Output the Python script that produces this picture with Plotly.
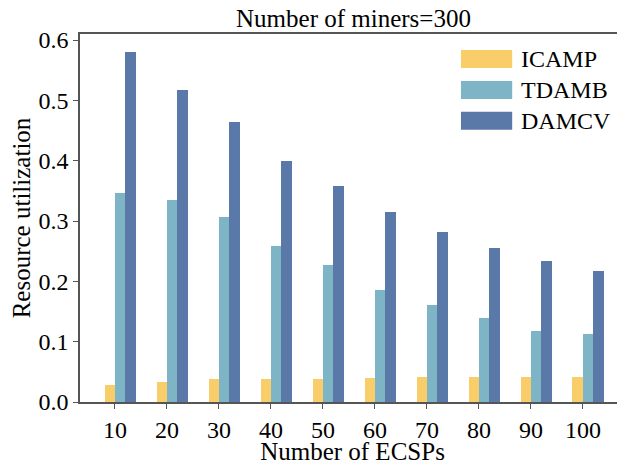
import plotly.graph_objects as go

ecsps = [10, 20, 30, 40, 50, 60, 70, 80, 90, 100]
icamp = [0.028, 0.033, 0.038, 0.038, 0.038, 0.040, 0.041, 0.041, 0.041, 0.041]
tdamb = [0.347, 0.335, 0.307, 0.259, 0.227, 0.186, 0.161, 0.139, 0.118, 0.113]
damcv = [0.580, 0.517, 0.464, 0.400, 0.358, 0.315, 0.282, 0.255, 0.234, 0.217]
series_names = ["ICAMP", "TDAMB", "DAMCV"]
colors = ["#F9CD6A", "#7EB5C6", "#5A78A8"]
y_ticks = [0.0, 0.1, 0.2, 0.3, 0.4, 0.5, 0.6]

FONT = "Liberation Serif"
AX = "#555555"

fig = go.Figure()
for name, vals, col, off in zip(series_names, [icamp, tdamb, damcv], colors, [-2, 0, 2]):
    fig.add_trace(go.Bar(x=ecsps, y=vals, name=name, marker_color=col,
                         marker_line_width=0, width=2, offset=off, showlegend=False))

# custom legend (wide patches like the reference)
for i, (name, col) in enumerate(zip(series_names, colors)):
    yc = 0.932 - i * 0.084
    fig.add_shape(type="rect", xref="paper", yref="paper",
                  x0=0.699, x1=0.793, y0=yc - 0.0245, y1=yc + 0.0245,
                  fillcolor=col, line_width=0)
    fig.add_annotation(xref="paper", yref="paper", x=0.806, y=yc, text=name,
                       showarrow=False, xanchor="left", yanchor="middle",
                       font=dict(family=FONT, size=24, color="black"))

fig.update_layout(
    width=617, height=457,
    margin=dict(l=72, r=0, t=26, b=63),
    plot_bgcolor="white", paper_bgcolor="white",
    bargap=0,
    title=dict(text="Number of miners=300", x=0.56, xanchor="center", y=0.978, yanchor="middle",
               font=dict(family=FONT, size=25, color="black")),
    font=dict(family=FONT, color="black"),
)
fig.update_xaxes(range=[3.27, 108.1], tickvals=ecsps, ticktext=[str(v) for v in ecsps],
                 ticks="outside", ticklen=5, tickwidth=1.3, tickcolor=AX,
                 showline=True, linecolor=AX, linewidth=1.5, mirror=True,
                 showgrid=False, zeroline=False, automargin=False,
                 tickfont=dict(family=FONT, size=24, color="black"),
                 title=dict(text="Number of ECSPs", standoff=3,
                            font=dict(family=FONT, size=25, color="black")))
fig.update_yaxes(range=[0, 0.61], tickvals=y_ticks, tickformat=".1f",
                 ticks="outside", ticklen=5, tickwidth=1.3, tickcolor=AX,
                 showline=True, linecolor=AX, linewidth=1.5, mirror=False,
                 showgrid=False, zeroline=False, automargin=False,
                 tickfont=dict(family=FONT, size=24, color="black"),
                 title=dict(text="Resource utilization", standoff=6,
                            font=dict(family=FONT, size=25, color="black")))

fig.write_html("out.html")
